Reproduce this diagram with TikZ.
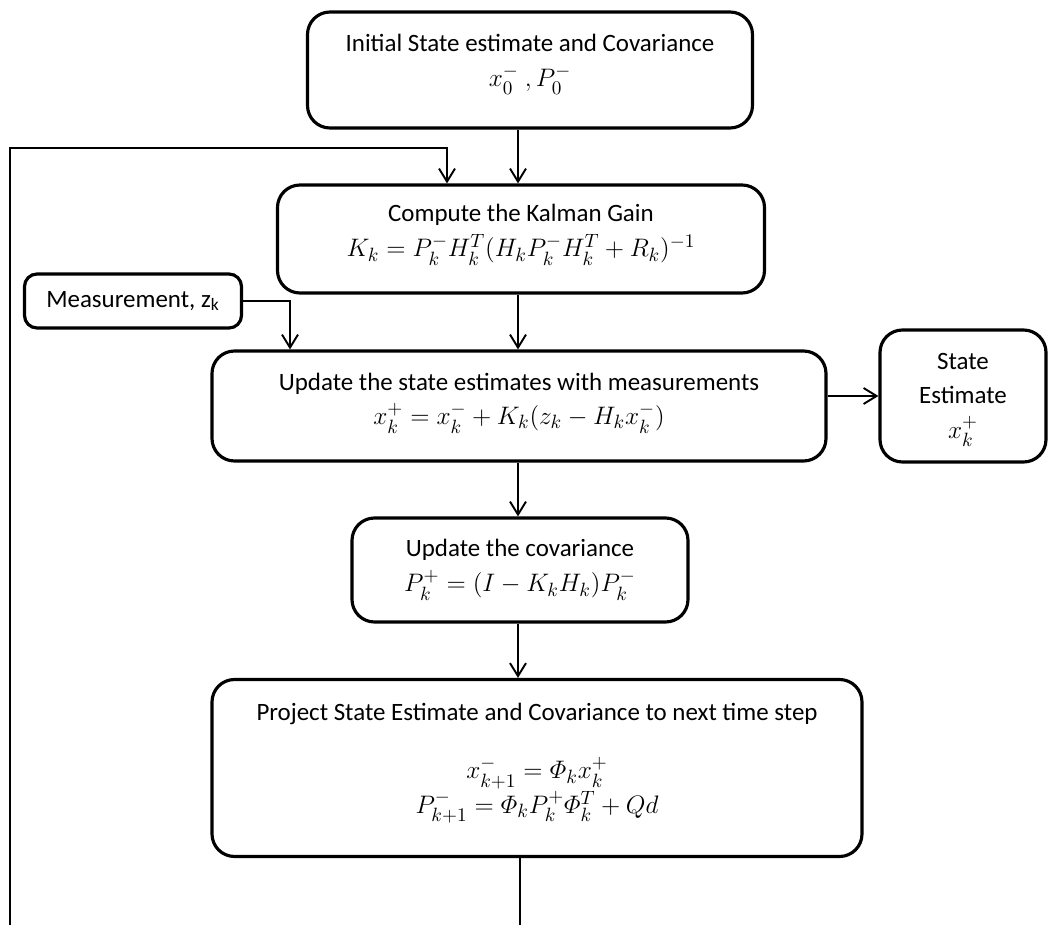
\documentclass[tikz,border=0pt]{standalone}
\usepackage{amsmath}
\usepackage{fontspec}
\setmainfont{Carlito}
\usetikzlibrary{arrows.meta, positioning}

\newcommand{\eqfont}{\fontsize{15.5}{19}\selectfont}

\begin{document}
\begin{tikzpicture}[
      x=0.02cm, y=-0.02cm,
      font=\fontsize{14.2}{17}\selectfont,
      >={Straight Barb[length=2.6mm,width=3.2mm,line width=1.1pt]},
      process/.style={
        draw=black,
        rounded corners=4.5mm,
        line width=1.8pt,
        align=center,
        inner sep=0pt
      },
      flow/.style={->, draw=black, line width=1.1pt},
      link/.style={draw=black, line width=1.1pt}
    ]
    \useasboundingbox (0,0) rectangle (1048,925);

    % Process boxes
    \node[process, minimum width=445*0.02cm, minimum height=116*0.02cm] (init) at (530,70)
      {Initial State estimate and Covariance\\[3pt] \eqfont $x_0^-\ ,P_0^-$\\[-6pt]};
    \node[process, minimum width=487*0.02cm, minimum height=108*0.02cm] (gain) at (521,239)
      {Compute the Kalman Gain\\[3pt] \eqfont $K_k = P_k^- H_k^T (H_k P_k^- H_k^T + R_k)^{-1}$\\[-7.5pt]};
    \node[process, rounded corners=2.5mm, minimum width=217*0.02cm, minimum height=54*0.02cm] (meas) at (133,301)
      {Measurement, z\textsubscript{k}};
    \node[process, minimum width=614*0.02cm, minimum height=110*0.02cm] (update) at (519,406)
      {Update the state estimates with measurements\\[2.5pt] \eqfont $x_k^+ = x_k^- + K_k (z_k - H_k x_k^-)$\\[-8.5pt]};
    \node[process, minimum width=166*0.02cm, minimum height=132*0.02cm] (estimate) at (963,396)
      {\rule{0pt}{14pt}State\\[2pt] Estimate\\[3pt] \eqfont $x_k^+$};
    \node[process, minimum width=336*0.02cm, minimum height=104*0.02cm] (cov) at (520,570)
      {Update the covariance\\[3pt] \eqfont $P_k^+ = (I - K_k H_k) P_k^-$\\[-11.5pt]};
    \node[process, minimum width=650*0.02cm, minimum height=177*0.02cm] (project) at (537,768)
      {Project State Estimate and Covariance to next time step\\[16pt]
       \eqfont $x_{k+1}^- = \varPhi_k x_k^+$\\[0pt]
       \eqfont $P_{k+1}^- = \varPhi_k P_k^+ \varPhi_k^T + Qd$\\[-6pt]};

    % Free ends of the loop
    \coordinate (loopstart) at (10,925);
    \coordinate (loopend) at (520,925);

    % Main flow
    \draw[flow] (init.south -| 518,0) -- (gain.north -| 518,0);
    \draw[flow] (gain.south -| 518,0) -- (update.north -| 518,0);
    \draw[flow] (update.south -| 518,0) -- (cov.north -| 518,0);
    \draw[flow] (cov.south -| 518,0) -- (project.north -| 518,0);
    \draw[flow] (update.east |- estimate.west) -- (estimate.west);
    \draw[flow] (meas.east) -| (update.north -| 290,0);

    % Loop back
    \draw[link] (project.south -| loopend) -- (loopend);
    \draw[flow] (loopstart) |- (447,148) -- (gain.north -| 447,0);

  \end{tikzpicture}
\end{document}
